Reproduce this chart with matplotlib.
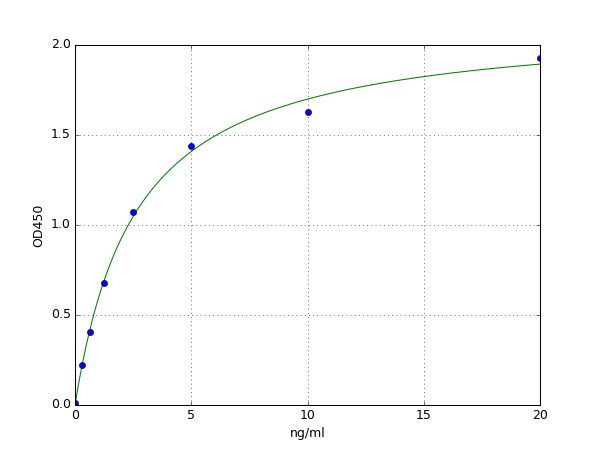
import matplotlib
matplotlib.use('Agg')
import matplotlib.pyplot as plt
import numpy as np

# standard concentrations and measured OD
conc = [0.0, 0.3125, 0.625, 1.25, 2.5, 5.0, 10.0, 20.0]
od450 = [0.009, 0.22, 0.404, 0.68, 1.07, 1.437, 1.628, 1.93]


def fit_4pl(x, y):
    """Grid search over c, b; linear least squares for a, d in a 4PL curve."""
    x = np.asarray(x)
    y = np.asarray(y)
    best = None
    for c in np.linspace(0.5, 10, 200):
        for b in np.linspace(0.6, 1.6, 101):
            g = 1.0 / (1.0 + (x / c) ** b)
            A = np.column_stack([g, 1 - g])
            coef, res, _, _ = np.linalg.lstsq(A, y, rcond=None)
            err = np.sum((A @ coef - y) ** 2)
            if best is None or err < best[0]:
                best = (err, coef[0], b, c, coef[1])
    return best[1:]


a, b, c, d = fit_4pl(conc, od450)
xs = np.linspace(0, 20, 400)
ys = d + (a - d) / (1 + (xs / c) ** b)

plt.style.use('classic')
fig, ax = plt.subplots(figsize=(8, 6), dpi=75)
fig.patch.set_facecolor('white')
ax.plot(xs, ys, 'g-')
ax.plot(conc, od450, 'bo')
ax.set_xlim(0, 20)
ax.set_ylim(0, 2.0)
ax.set_xlabel('ng/ml')
ax.set_ylabel('OD450')
ax.grid(True)

fig.savefig('out.png', dpi=75, facecolor='white')
